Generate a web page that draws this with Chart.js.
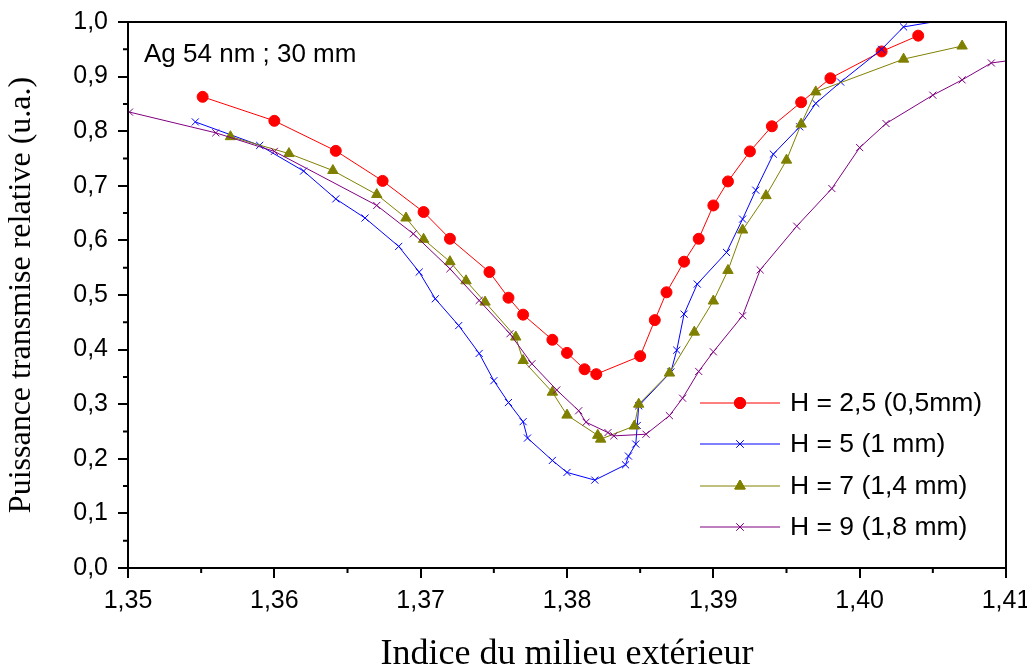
<!DOCTYPE html>
<html>
<head>
<meta charset="utf-8">
<script src="https://cdn.jsdelivr.net/npm/chart.js@4/dist/chart.umd.min.js"></script>
<style>
  html, body { margin: 0; padding: 0; background: #fff; }
  #wrap { width: 1027px; height: 668px; }
</style>
</head>
<body>
<div id="wrap"><canvas id="chart" width="1027" height="668"></canvas></div>
<script>
// values
const labelsH = ['H = 2,5 (0,5mm)', 'H = 5 (1 mm)', 'H = 7 (1,4 mm)', 'H = 9 (1,8 mm)']

const redX = [1.3551, 1.3600, 1.3642, 1.3674, 1.3702, 1.3720, 1.3747, 1.3760, 1.3770, 1.3790, 1.3800, 1.3812, 1.3820,
  1.3850, 1.3860, 1.3868, 1.3880, 1.3890, 1.3900, 1.3910, 1.3925, 1.3940, 1.3960, 1.3980, 1.4015, 1.4040]
const redY = [0.863, 0.819, 0.764, 0.709, 0.652, 0.603, 0.542, 0.495, 0.464, 0.418, 0.394, 0.364, 0.355,
  0.388, 0.454, 0.505, 0.561, 0.603, 0.664, 0.708, 0.763, 0.809, 0.853, 0.897, 0.946, 0.975]

const blueX = [1.3546, 1.3590, 1.3620, 1.3642, 1.3662, 1.3685, 1.3699, 1.3710, 1.3726, 1.3740, 1.3750, 1.3760, 1.3770,
  1.3773, 1.3790, 1.3800, 1.3819, 1.3840, 1.3842, 1.3847, 1.3848, 1.3849, 1.3871, 1.3875, 1.3880, 1.3889, 1.3909,
  1.3920, 1.3929, 1.3941, 1.3959, 1.3970, 1.3987, 1.4015, 1.4030, 1.4090]
const blueY = [0.817, 0.774, 0.727, 0.676, 0.641, 0.589, 0.542, 0.493, 0.444, 0.393, 0.343, 0.303, 0.268,
  0.238, 0.197, 0.175, 0.161, 0.189, 0.205, 0.227, 0.261, 0.297, 0.359, 0.399, 0.465, 0.520, 0.578,
  0.639, 0.692, 0.758, 0.808, 0.851, 0.890, 0.950, 0.991, 1.018]

const oliveX = [1.3570, 1.3610, 1.3640, 1.3670, 1.3690, 1.3702, 1.3720, 1.3731, 1.3744, 1.3765, 1.3770, 1.3790, 1.3800,
  1.3821, 1.3823, 1.3846, 1.3849, 1.3870, 1.3887, 1.3900, 1.3910, 1.3920, 1.3936, 1.3950, 1.3960, 1.3970, 1.4030, 1.4070]
const oliveY = [0.790, 0.759, 0.728, 0.684, 0.641, 0.602, 0.561, 0.526, 0.487, 0.423, 0.380, 0.322, 0.280,
  0.243, 0.236, 0.260, 0.300, 0.357, 0.432, 0.489, 0.545, 0.619, 0.682, 0.747, 0.813, 0.872, 0.932, 0.956]

const purpleX = [1.3501, 1.3560, 1.3600, 1.3670, 1.3695, 1.3720, 1.3740, 1.3761, 1.3776, 1.3793, 1.3808, 1.3813, 1.3828,
  1.3832, 1.3854, 1.3870, 1.3879, 1.3890, 1.3900, 1.3920, 1.3932, 1.3957, 1.3981, 1.4000, 1.4018, 1.4050, 1.4070,
  1.4090, 1.4115]
const purpleY = [0.835, 0.797, 0.763, 0.664, 0.612, 0.548, 0.490, 0.429, 0.374, 0.326, 0.288, 0.267, 0.248,
  0.242, 0.245, 0.279, 0.311, 0.360, 0.396, 0.462, 0.546, 0.626, 0.695, 0.770, 0.814, 0.866, 0.894,
  0.925, 0.934]

const annotation = 'Ag 54 nm ; 30 mm'
const xTitle = 'Indice du milieu extérieur'
const yTitle = 'Puissance transmise relative (u.a.)'

const toPoints = (xs, ys) => xs.map((x, i) => ({ x: x, y: ys[i] }))

function toDataset(label, xs, ys, color, style, radius, order) {
  return {
    label: label,
    data: toPoints(xs, ys),
    borderColor: color,
    backgroundColor: color,
    borderWidth: 1,
    pointStyle: style,
    pointRadius: radius,
    pointBorderWidth: 1,
    pointBackgroundColor: color,
    pointBorderColor: color,
    tension: 0,
    order: order
  }
}

const datasets = [
  toDataset(labelsH[0], redX, redY, '#ff0000', 'circle', 5.5, 4),
  toDataset(labelsH[1], blueX, blueY, '#0000ff', 'crossRot', 5, 3),
  toDataset(labelsH[2], oliveX, oliveY, '#808000', 'triangle', 6, 2),
  toDataset(labelsH[3], purpleX, purpleY, '#800080', 'crossRot', 5, 1)
]

const isMajor = (v, k) => Math.round(v * k) % 10 === 0

// frame, minor ticks, text box and legend
const decor = {
  id: 'decor',
  afterDraw(chart) {
    const ctx = chart.ctx
    const a = chart.chartArea
    const xs = chart.scales.x
    const ys = chart.scales.y
    ctx.save()
    ctx.strokeStyle = '#000'
    ctx.lineWidth = 2
    ctx.strokeRect(a.left, a.top, a.right - a.left, a.bottom - a.top)

    ctx.beginPath()
    xs.ticks.forEach((t) => {
      if (isMajor(t.value, 1000)) return
      const px = xs.getPixelForValue(t.value)
      ctx.moveTo(px, a.bottom)
      ctx.lineTo(px, a.bottom + 5)
    })
    ys.ticks.forEach((t) => {
      if (isMajor(t.value, 100)) return
      const py = ys.getPixelForValue(t.value)
      ctx.moveTo(a.left, py)
      ctx.lineTo(a.left - 5, py)
    })
    ctx.stroke()

    ctx.fillStyle = '#000'
    ctx.font = '26px "Liberation Sans", Arial, sans-serif'
    ctx.textBaseline = 'alphabetic'
    ctx.textAlign = 'left'
    ctx.fillText(annotation, a.left + 16, a.top + 40)

    // legend: line with marker in the middle, then text
    ctx.font = '26.5px "Liberation Sans", Arial, sans-serif'
    const x0 = 700, x1 = 780
    const rowY = [403, 444, 486, 527]
    chart.data.datasets.forEach((ds, i) => {
      const y = rowY[i]
      ctx.strokeStyle = ds.borderColor
      ctx.lineWidth = 1
      ctx.beginPath()
      ctx.moveTo(x0, y)
      ctx.lineTo(x1, y)
      ctx.stroke()
      Chart.helpers.drawPoint(ctx, {
        pointStyle: ds.pointStyle,
        radius: ds.pointRadius,
        borderWidth: 1,
        rotation: 0
      }, (x0 + x1) / 2, y)
      ctx.fillStyle = ds.borderColor
      ctx.fill()
      ctx.stroke()
      ctx.fillStyle = '#000'
      ctx.textBaseline = 'middle'
      ctx.fillText(ds.label, 790, y + 1)
    })
    ctx.restore()
  }
}

const config = {
  type: 'line',
  data: { datasets: datasets },
  options: {
    responsive: false,
    animation: false,
    layout: { padding: { top: 22, right: 21, left: 0, bottom: 0 } },
    plugins: {
      legend: { display: false },
      tooltip: { enabled: false }
    },
    scales: {
      x: {
        type: 'linear',
        min: 1.35,
        max: 1.41,
        border: { display: false },
        grid: {
          drawOnChartArea: false,
          tickLength: 10,
          lineWidth: 2,
          tickColor: (c) => isMajor(c.tick.value, 1000) ? '#000' : 'rgba(0,0,0,0)'
        },
        ticks: {
          stepSize: 0.005,
          autoSkip: false,
          maxRotation: 0,
          padding: 8,
          color: '#000',
          font: { family: '"Liberation Sans", Arial, sans-serif', size: 25 },
          callback: (v) => isMajor(v, 1000) ? v.toFixed(2).replace('.', ',') : ''
        },
        title: {
          display: true,
          text: xTitle,
          color: '#000',
          font: { family: '"Liberation Serif", "Times New Roman", serif', size: 36, lineHeight: 1 },
          padding: { top: 8, bottom: -5 }
        },
        afterFit: (scale) => {
          scale.height = 100
          scale.paddingLeft = 0
          scale.paddingRight = 0
        }
      },
      y: {
        type: 'linear',
        min: 0,
        max: 1,
        border: { display: false },
        grid: {
          drawOnChartArea: false,
          tickLength: 10,
          lineWidth: 2,
          tickColor: (c) => isMajor(c.tick.value, 100) ? '#000' : 'rgba(0,0,0,0)'
        },
        ticks: {
          stepSize: 0.05,
          autoSkip: false,
          padding: 10,
          color: '#000',
          font: { family: '"Liberation Sans", Arial, sans-serif', size: 25 },
          callback: (v) => isMajor(v, 100) ? v.toFixed(1).replace('.', ',') : ''
        },
        title: {
          display: true,
          text: yTitle,
          color: '#000',
          font: { family: '"Liberation Serif", "Times New Roman", serif', size: 32 },
          padding: { top: 2, bottom: 0 }
        },
        afterFit: (scale) => {
          scale.width = 128
          scale.paddingTop = 0
          scale.paddingBottom = 0
        }
      }
    }
  },
  plugins: [decor]
}

new Chart(document.getElementById('chart'), config)
</script>
</body>
</html>
